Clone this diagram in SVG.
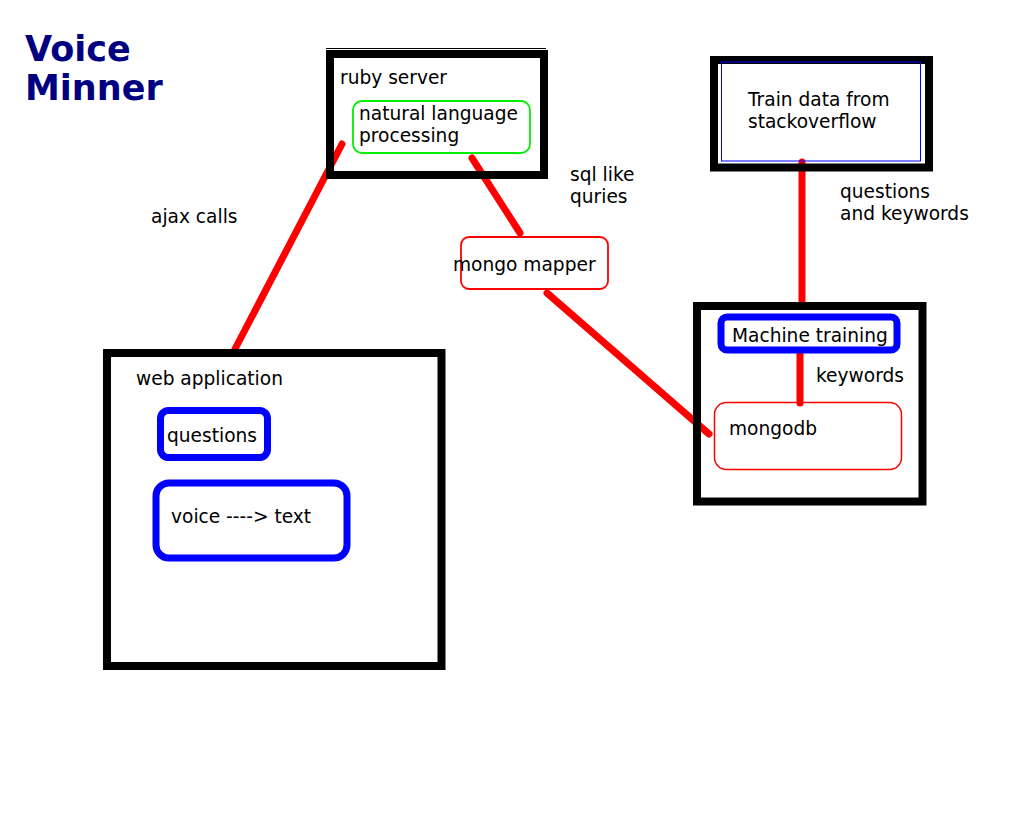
<svg xmlns="http://www.w3.org/2000/svg" width="1025" height="815" viewBox="0 0 1025 815">
  <style>
    .box { fill: none; stroke: #000; stroke-width: 8; }
    .blue { fill: none; stroke: #0000ff; stroke-width: 7; }
    .redbox { fill: none; stroke: #ff0000; stroke-width: 1.5; }
    .link { stroke: #ff0000; stroke-width: 7; stroke-linecap: round; fill: none; }
    .t { font-family: "DejaVu Sans", sans-serif; font-size: 18.6px; fill: #000; }
    .title { font-family: "DejaVu Sans", sans-serif; font-size: 35px; font-weight: bold; fill: #000080; }
  </style>
  <rect width="1025" height="815" fill="#fff"/>

  <g id="title">
    <text class="title" x="25" y="61">Voice</text>
    <text class="title" x="25" y="100">Minner</text>
  </g>

  <g id="connectors">
    <line class="link" x1="342" y1="144" x2="235" y2="349"/>
    <line class="link" x1="472" y1="158" x2="520" y2="233"/>
    <line class="link" x1="547" y1="293" x2="709" y2="434"/>
    <line class="link" x1="802" y1="162" x2="802" y2="302" stroke-linecap="butt"/>
    <line class="link" x1="800" y1="352" x2="800" y2="403" stroke-linecap="butt"/>
  </g>

  <g id="labels">
    <text class="t" x="151" y="223">ajax calls</text>
    <text class="t" x="570" y="181">sql like</text>
    <text class="t" x="570" y="203">quries</text>
    <text class="t" x="840" y="198">questions</text>
    <text class="t" x="840" y="220">and keywords</text>
    <text class="t" x="816" y="382">keywords</text>
  </g>

  <g id="ruby-server">
    <line x1="326" y1="48.5" x2="546" y2="48.5" stroke="#000" stroke-width="1"/>
    <rect class="box" x="330" y="54" width="214" height="121"/>
    <text class="t" x="340" y="84">ruby server</text>
  </g>

  <g id="nlp">
    <rect x="353" y="101" width="177" height="52" rx="9" fill="none" stroke="#00ee00" stroke-width="1.8"/>
    <text class="t" x="359" y="120">natural language</text>
    <text class="t" x="359" y="142">processing</text>
  </g>

  <g id="train-data">
    <rect class="box" x="714" y="60" width="215" height="107.5"/>
    <rect x="721.5" y="62" width="199" height="99" fill="none" stroke="#0000ff" stroke-width="1"/>
    <text class="t" x="748" y="106">Train data from</text>
    <text class="t" x="748" y="128">stackoverflow</text>
  </g>

  <g id="mongo-mapper">
    <rect x="461" y="237" width="147" height="52" rx="8" fill="#fff" stroke="#ff0000" stroke-width="1.8"/>
    <text class="t" x="453" y="271">mongo mapper</text>
  </g>

  <g id="machine-box">
    <rect class="box" x="697" y="306" width="225.5" height="195.5"/>
  </g>

  <g id="machine-training">
    <rect class="blue" x="721" y="317" width="176" height="33" rx="6"/>
    <text class="t" x="732" y="342">Machine training</text>
  </g>

  <g id="mongodb">
    <rect class="redbox" x="714.5" y="402.5" width="187" height="67" rx="12"/>
    <text class="t" x="729" y="435">mongodb</text>
  </g>

  <g id="web-application">
    <rect class="box" x="107" y="353" width="334.5" height="313"/>
    <text class="t" x="136" y="385">web application</text>
  </g>

  <g id="questions">
    <rect class="blue" x="160.5" y="410.5" width="107" height="47" rx="8"/>
    <text class="t" x="167" y="442">questions</text>
  </g>

  <g id="voice-to-text">
    <rect class="blue" x="156" y="483" width="191" height="75" rx="13"/>
    <text class="t" x="171" y="523">voice ----&gt; text</text>
  </g>
</svg>
